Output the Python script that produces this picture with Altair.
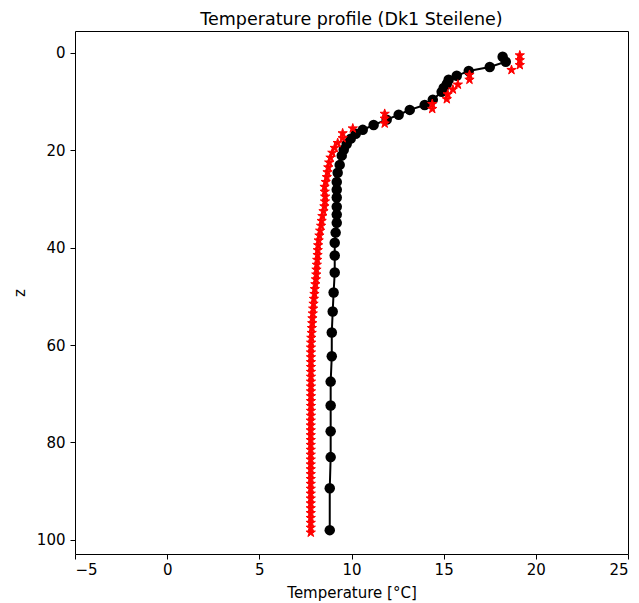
import altair as alt
import pandas as pd

# Black profile (circles joined by a line)
black_T = [18.20, 18.37, 17.50, 16.36, 15.71, 15.27, 15.17, 15.00, 14.89, 14.41,
           13.97, 13.16, 12.56, 11.91, 11.20, 10.61, 10.23, 9.96, 9.74, 9.58,
           9.47, 9.36, 9.25, 9.20, 9.20, 9.20, 9.20, 9.20, 9.20, 9.14,
           9.09, 9.09, 9.09, 9.03, 8.98, 8.93, 8.93, 8.87, 8.87, 8.87,
           8.87, 8.82, 8.82]
black_z = [0.8, 1.8, 2.9, 3.7, 4.7, 5.5, 6.4, 7.2, 8.0, 9.6,
           10.7, 11.7, 12.7, 13.7, 14.8, 15.8, 16.6, 17.6, 18.7, 19.9,
           21.1, 23.0, 24.6, 26.5, 28.1, 29.7, 31.6, 33.2, 34.9, 36.9,
           39.0, 41.6, 45.1, 49.2, 53.1, 57.4, 62.3, 67.5, 72.4, 77.7,
           83.0, 89.4, 98.0]

# Red profile (star markers only)
red_z = [0.5, 1.5, 2.5, 3.5, 4.5, 5.5, 6.5, 7.5, 8.5, 9.5,
         10.5, 11.5, 12.5, 13.5, 14.5, 15.5, 16.5, 17.5, 18.5, 19.5,
         20.5, 21.5, 22.5, 23.5, 24.5, 25.5, 26.5, 27.5, 28.5, 29.5,
         30.5, 31.5, 32.5, 33.5, 34.5, 35.5, 36.5, 37.5, 38.5, 39.5,
         40.5, 41.5, 42.5, 43.5, 44.5, 45.5, 46.5, 47.5, 48.5, 49.5,
         50.5, 51.5, 52.5, 53.5, 54.5, 55.5, 56.5, 57.5, 58.5, 59.5,
         60.5, 61.5, 62.5, 63.5, 64.5, 65.5, 66.5, 67.5, 68.5, 69.5,
         70.5, 71.5, 72.5, 73.5, 74.5, 75.5, 76.5, 77.5, 78.5, 79.5,
         80.5, 81.5, 82.5, 83.5, 84.5, 85.5, 86.5, 87.5, 88.5, 89.5,
         90.5, 91.5, 92.5, 93.5, 94.5, 95.5, 96.5, 97.5, 98.5]
red_T = [19.13, 19.13, 19.13, 18.68, 16.40, 16.40, 15.77, 15.50, 15.22, 15.17,
         14.38, 14.38, 11.80, 11.80, 11.80, 10.07, 9.52, 9.52, 9.25, 9.09,
         8.96, 8.86, 8.79, 8.74, 8.70, 8.66, 8.60, 8.54, 8.55, 8.57,
         8.56, 8.53, 8.48, 8.42, 8.38, 8.35, 8.30, 8.26, 8.22, 8.19,
         8.17, 8.16, 8.14, 8.12, 8.10, 8.09, 8.07, 8.04, 8.01, 7.99,
         7.96, 7.94, 7.92, 7.90, 7.88, 7.87, 7.85, 7.84, 7.82, 7.81,
         7.80, 7.80, 7.80, 7.80, 7.80, 7.80, 7.80, 7.80, 7.80, 7.80,
         7.80, 7.80, 7.80, 7.80, 7.80, 7.79, 7.79, 7.79, 7.79, 7.79,
         7.79, 7.79, 7.79, 7.79, 7.79, 7.79, 7.79, 7.79, 7.79, 7.79,
         7.79, 7.79, 7.79, 7.79, 7.79, 7.79, 7.79, 7.79, 7.79]

x_ticks = [-5, 0, 5, 10, 15, 20, 25]
y_ticks = [0, 20, 40, 60, 80, 100]

black_df = pd.DataFrame({"T": black_T, "z": black_z, "i": list(range(len(black_T)))})
red_df = pd.DataFrame({"T": red_T, "z": red_z})

FONT = "DejaVu Sans"
W, H = 553, 523
STAR = ("M0,-1L0.225,-0.309L0.951,-0.309L0.363,0.118L0.588,0.809L0,0.382"
        "L-0.588,0.809L-0.363,0.118L-0.951,-0.309L-0.225,-0.309Z")

x_enc = alt.X("T:Q", scale=alt.Scale(domain=[-5, 25], nice=False, zero=False),
              axis=alt.Axis(values=x_ticks, title="Temperature [°C]", orient="bottom",
                            labelPadding=3, titleBaseline="alphabetic", titleY=43))
y_enc = alt.Y("z:Q", scale=alt.Scale(domain=[-4.5, 102.9], nice=False, zero=False, reverse=True),
              axis=alt.Axis(values=y_ticks, title="z", orient="left", labelPadding=5,
                            titleX=-47.5, titleY=H / 2))

line = alt.Chart(black_df).mark_line(color="black", strokeWidth=2).encode(
    x=x_enc, y=y_enc, order="i:Q")
dots = alt.Chart(black_df).mark_point(shape="circle", filled=True, color="black",
                                      size=110, opacity=1).encode(x=x_enc, y=y_enc)
stars = alt.Chart(red_df).mark_point(shape=STAR, filled=True, fill="#ff0000", stroke="#ff0000",
                                     strokeWidth=1, size=95, opacity=1).encode(x=x_enc, y=y_enc)

chart = alt.layer(line, dots, stars).properties(
    width=W, height=H,
    title=alt.TitleParams("Temperature profile (Dk1 Steilene)", font=FONT, fontSize=17.5,
                          fontWeight="normal", color="black", offset=3),
    autosize=alt.AutoSizeParams(type="none"),
    padding={"left": 67, "top": 23, "right": 3, "bottom": 50},
).configure_view(stroke="black", strokeWidth=1).configure_axis(
    grid=False, domain=False, tickColor="black", tickSize=5, tickWidth=1,
    labelColor="black", labelFont=FONT, labelFontSize=15,
    titleColor="black", titleFont=FONT, titleFontSize=15, titleFontWeight="normal",
)

chart.save("out.html", embed_options={"renderer": "svg", "actions": False})
